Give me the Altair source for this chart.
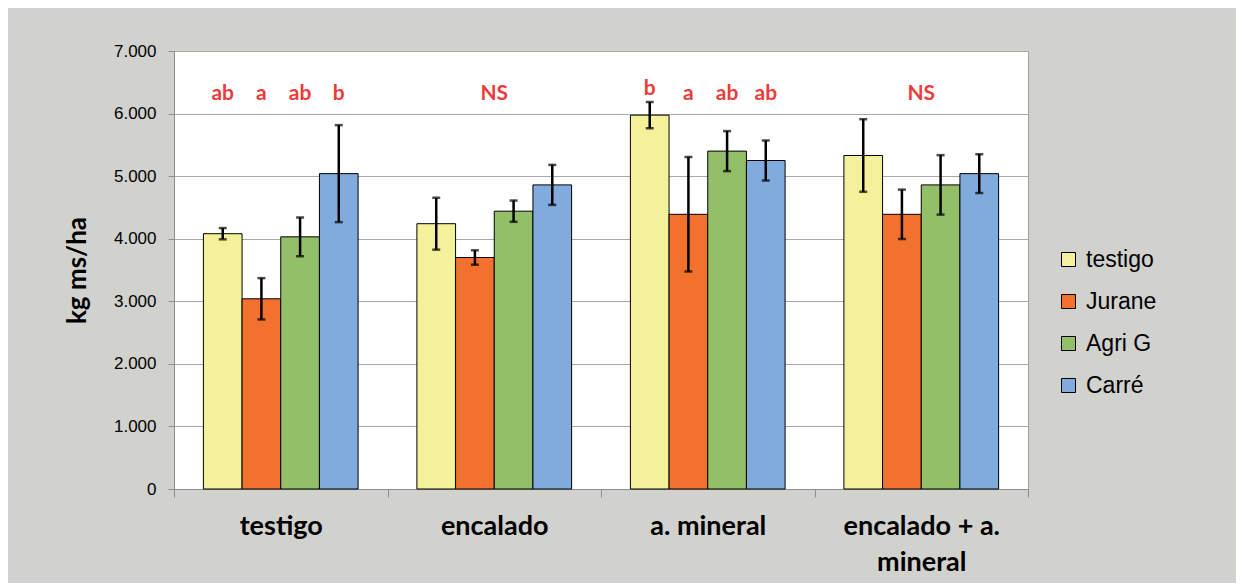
import altair as alt
import pandas as pd

# ---- data ----
groups = ["testigo", "encalado", "a. mineral", "encalado + a. mineral"]
series = ["testigo", "Jurane", "Agri G", "Carré"]
colors = ["#F5F19A", "#F2712C", "#93BF69", "#80ABDC"]

values_testigo = [4080, 3040, 4030, 5040]
values_encalado = [4240, 3700, 4440, 4860]
values_mineral = [5975, 4390, 5400, 5250]
values_enc_min = [5330, 4390, 4860, 5040]

err_testigo = [90, 330, 310, 775]
err_encalado = [415, 115, 170, 320]
err_mineral = [210, 915, 320, 320]
err_enc_min = [580, 395, 475, 310]

letters_testigo = ["ab", "a", "ab", "b"]
letters_mineral = ["b", "a", "ab", "ab"]
letters_level_testigo = [6220, 6220, 6220, 6220]
letters_level_mineral = [6290, 6220, 6220, 6220]
ns_groups = ["encalado", "encalado + a. mineral"]
ns_level = [6220, 6220]

y_ticks = [0, 1000, 2000, 3000, 4000, 5000, 6000, 7000]

# ---- tables ----
all_vals = [values_testigo, values_encalado, values_mineral, values_enc_min]
all_errs = [err_testigo, err_encalado, err_mineral, err_enc_min]
rows = []
for g, vals, errs in zip(groups, all_vals, all_errs):
    for s, v, e in zip(series, vals, errs):
        rows.append({"grupo": g, "serie": s, "valor": v, "lo": v - e, "hi": v + e})
df = pd.DataFrame(rows)

let_rows = []
for g, labs, lev in [("testigo", letters_testigo, letters_level_testigo),
                     ("a. mineral", letters_mineral, letters_level_mineral)]:
    for s, t, l in zip(series, labs, lev):
        let_rows.append({"grupo": g, "serie": s, "txt": t, "nivel": l})
df_let = pd.DataFrame(let_rows)
df_ns = pd.DataFrame({"grupo": ns_groups, "txt": ["NS"] * len(ns_groups), "nivel": ns_level})

xscale = alt.Scale(domain=groups, paddingInner=0, paddingOuter=0)
xoff = alt.Scale(domain=series, paddingInner=0, paddingOuter=0.76)
yscale = alt.Scale(domain=[0, 7000], nice=False)

x_axis = alt.Axis(
    labelAngle=0, labelFont="Lato", labelFontWeight="bold", labelFontSize=27,
    labelColor="black", labelPadding=16, labelLineHeight=36,
    labelExpr="datum.label == 'encalado + a. mineral' ? ['encalado + a.', 'mineral'] : datum.label",
    tickBand="extent", tickSize=8, tickColor="#8E8E8E", domainColor="#8E8E8E",
    grid=False,
)
x_enc = alt.X("grupo:N", scale=xscale, sort=groups, title=None, axis=x_axis)

y_axis = alt.Axis(values=y_ticks,
                  labelExpr="replace(format(datum.value, ','), ',', '.')",
                  labelFont="Liberation Sans", labelFontSize=17, labelColor="black",
                  labelPadding=12, tickSize=6, tickColor="#8E8E8E",
                  domainColor="#8E8E8E", gridColor="#A8A8A8",
                  titleFont="Lato", titleFontSize=26, titleFontWeight="bold",
                  titleColor="black", titleAngle=-90, titleX=-97, titleY=219,
                  titleBaseline="middle", titleAlign="center")


def yenc(field):
    return alt.Y(field, scale=yscale, title="kg ms/ha", axis=y_axis)


xo = alt.XOffset("serie:N", scale=xoff, sort=series)

bars = alt.Chart(df).mark_bar(stroke="black", strokeWidth=1).encode(
    x=x_enc, xOffset=xo, y=yenc("valor:Q"),
    color=alt.Color("serie:N", scale=alt.Scale(domain=series, range=colors), sort=series,
                    legend=alt.Legend(title=None, orient="none", legendX=883, legendY=197,
                                      symbolType="square", symbolSize=196,
                                      symbolStrokeColor="black", symbolStrokeWidth=1,
                                      labelFont="Liberation Sans", labelFontSize=23,
                                      labelColor="black", labelOffset=6, rowPadding=18,
                                      padding=0)),
)

err = alt.Chart(df).mark_rule(color="black", strokeWidth=2.5).encode(
    x=x_enc, xOffset=xo, y=yenc("lo:Q"), y2="hi:Q",
)
cap_lo = alt.Chart(df).mark_tick(color="black", thickness=2.5, size=8).encode(
    x=x_enc, xOffset=xo, y=yenc("lo:Q"),
)
cap_hi = alt.Chart(df).mark_tick(color="black", thickness=2.5, size=8).encode(
    x=x_enc, xOffset=xo, y=yenc("hi:Q"),
)

letters = alt.Chart(df_let).mark_text(font="Lato", fontWeight="bold", fontSize=21,
                                       color="#EC3B3B", baseline="alphabetic").encode(
    x=x_enc, xOffset=xo, y=yenc("nivel:Q"), text="txt:N",
)
ns = alt.Chart(df_ns).mark_text(font="Lato", fontWeight="bold", fontSize=21,
                                color="#EC3B3B", baseline="alphabetic").encode(
    x=x_enc, y=yenc("nivel:Q"), text="txt:N",
)

chart = alt.layer(bars, err, cap_lo, cap_hi, letters, ns).properties(
    width=854, height=438,
    padding={"left": 166, "top": 43, "right": 208, "bottom": 94},
    autosize=alt.AutoSizeParams(type="none"),
    background="#D1D1CD",
).configure_view(stroke="#A0A0A0", fill="white")

chart.save("out.html", embed_options={"renderer": "svg", "actions": False})
